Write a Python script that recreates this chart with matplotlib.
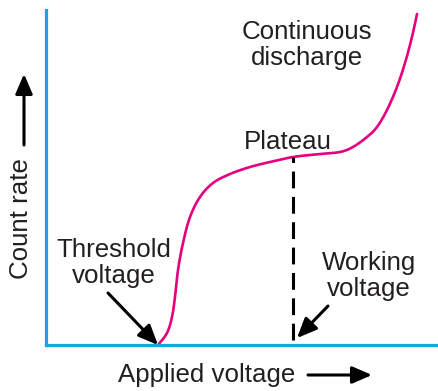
import matplotlib.pyplot as plt
from matplotlib.patches import FancyArrowPatch
import numpy as np

# characteristic curve of the counter (arbitrary units)
voltage = [112, 121, 126, 129, 132, 137, 144, 154, 167, 184, 204, 224,
           247, 274, 294, 307, 321, 331, 341, 351, 359, 366, 371]
count_rate = [0, 12, 28, 48, 75, 102, 128, 148, 162, 171, 178, 183,
              188, 191, 193, 198, 208, 218, 235, 258, 282, 308, 331]

threshold_v = 112
working_v = 247
working_count = 188

axisColor = "#1aa3e0"
curveColor = "#e5007d"
textColor = "#231f20"


def smoothCurve(xs, ys, steps=12):
    # catmull-rom pass so the line bends instead of kinking at each point
    p = np.column_stack([xs, ys]).astype(float)
    p = np.vstack([p[0], p, p[-1]])
    out = []
    t = np.linspace(0, 1, steps, endpoint=False)[:, None]
    for i in range(1, len(p) - 2):
        p0, p1, p2, p3 = p[i - 1], p[i], p[i + 1], p[i + 2]
        out.append(0.5 * (2 * p1 + (-p0 + p2) * t
                          + (2 * p0 - 5 * p1 + 4 * p2 - p3) * t ** 2
                          + (-p0 + 3 * p1 - 3 * p2 + p3) * t ** 3))
    out.append(p[-2][None, :])
    out = np.vstack(out)
    return out[:, 0], out[:, 1]


plt.rcParams["font.family"] = ["Liberation Sans", "DejaVu Sans"]

fig = plt.figure(figsize=(4.38, 3.91), dpi=100)
ax = fig.add_axes([46 / 438, 46 / 391, 392 / 438, 335 / 391])
ax.set_xlim(0, 392)
ax.set_ylim(0, 335)
for side in ["top", "right"]:
    ax.spines[side].set_visible(False)
for side in ["left", "bottom"]:
    ax.spines[side].set_color(axisColor)
    ax.spines[side].set_linewidth(2.3)
ax.set_xticks([])
ax.set_yticks([])

cx, cy = smoothCurve(voltage, count_rate)
ax.plot(cx, cy, color=curveColor, lw=1.9, solid_capstyle="round")
ax.vlines(working_v, 5, working_count, color="black", lw=2.2,
          linestyles=(0, (5.5, 2.8)))

fs = 18.6
ax.text(242, 203, "Plateau", color=textColor, fontsize=fs, ha="center", va="center")
ax.text(261, 300, "Continuous\ndischarge", color=textColor, fontsize=fs,
        ha="center", va="center", linespacing=1.1)

arrowKw = dict(arrowstyle="-|>,head_length=0.6,head_width=0.26", color="black",
               lw=2.2, mutation_scale=20, shrinkA=0, shrinkB=0)
ax.annotate("Threshold\nvoltage", xy=(threshold_v, 0), xytext=(68, 82),
            color=textColor, fontsize=fs, ha="center", va="center",
            linespacing=1.1, annotation_clip=False)
ax.annotate("", xy=(threshold_v, 0), xytext=(62, 52), arrowprops=arrowKw,
            annotation_clip=False)
ax.annotate("Working\nvoltage", xy=(working_v, 0), xytext=(323, 69),
            color=textColor, fontsize=fs, ha="center", va="center",
            linespacing=1.1, annotation_clip=False)
ax.annotate("", xy=(working_v + 4, 7), xytext=(282, 39), arrowprops=arrowKw,
            annotation_clip=False)

# axis captions with their arrows
fig.text(207 / 438, 1 - 375 / 391, "Applied voltage", color=textColor,
         fontsize=fs, ha="center", va="center")
fig.add_artist(FancyArrowPatch(
    (308 / 438, 1 - 375 / 391), (372 / 438, 1 - 375 / 391),
    transform=fig.transFigure, **arrowKw))
fig.text(21 / 438, 1 - 219 / 391, "Count rate", color=textColor, fontsize=fs,
         ha="center", va="center", rotation=90)
fig.add_artist(FancyArrowPatch(
    (24 / 438, 1 - 145 / 391), (24 / 438, 1 - 74 / 391),
    transform=fig.transFigure, **arrowKw))

plt.savefig("out.png", dpi=100)
